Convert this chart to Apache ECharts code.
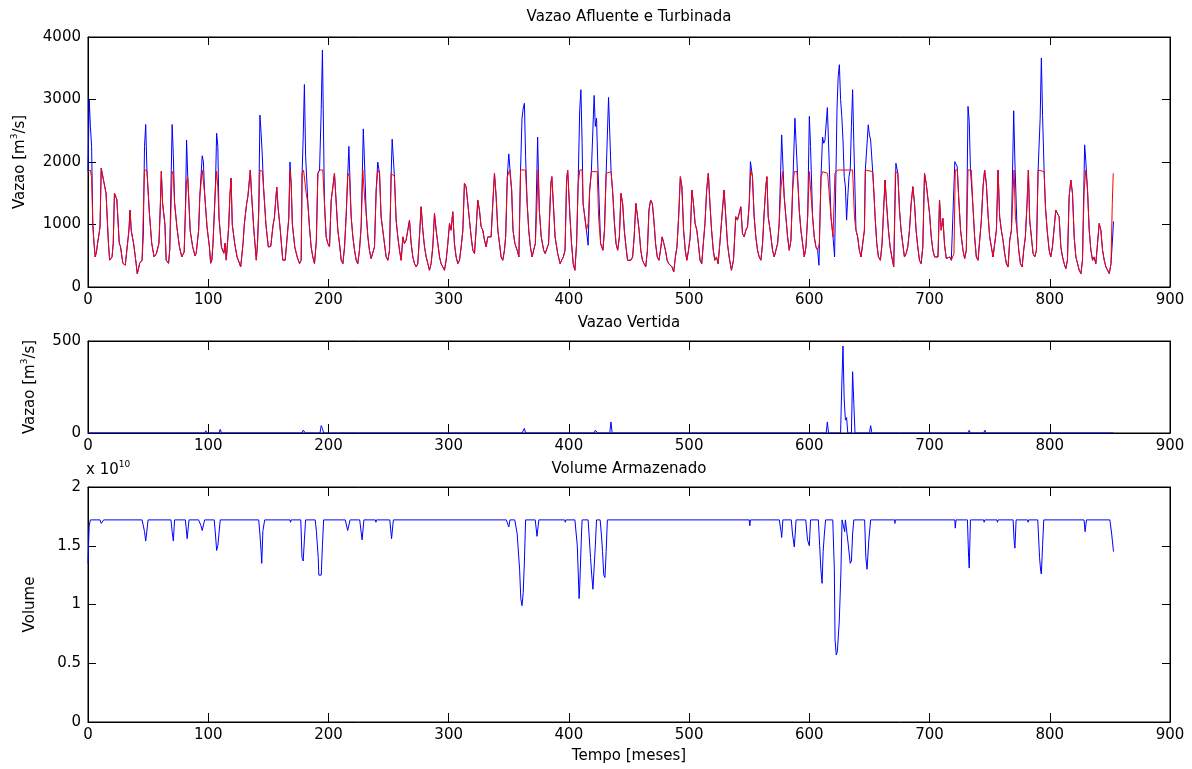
<!DOCTYPE html>
<html><head><meta charset="utf-8">
<script src="https://cdn.jsdelivr.net/npm/echarts@6/dist/echarts.min.js"></script>
<style>html,body{margin:0;padding:0;background:#fff}#c{width:1192px;height:769px}</style>
</head><body><div id="c"></div>
<script>
// ---------- DATA ----------
const titles = ['Vazao Afluente e Turbinada', 'Vazao Vertida', 'Volume Armazenado'];
const xLabel = 'Tempo [meses]';
const yLabels = ['Vazao [m{s|3}/s]', 'Vazao [m{s|3}/s]', 'Volume'];
const volumeExponent = 'x 10{s|10}';
const xRange = [0, 900, 100];
const yRanges = [[0, 4000, 1000], [0, 500, 500], [0, 2, 0.5]];

// Vazao Turbinada (red) [month, m3/s]
const turbinada = [
[0,1850],[2,1870],[3,1750],[4,1000],[5,700],[6,480],[7,560],[8,700],[10,960],[11,1900],[12,1920],[13,1700],[15,1500],[17,700],[18,430],[20,480],[21,700],[22,1500],[24,1400],[26,700],[27,650],[29,380],[31,350],[32,380],[34,900],[35,1230],[36,900],[38,690],[40,380],[41,210],[43,380],[45,430],[46,1180],[47,1870],[49,1870],[51,1200],[53,700],[55,480],[57,540],[59,700],[60,1200],[61,1850],[62,1350],[64,1000],[65,430],[67,380],[68,600],[70,1850],[71,1800],[72,1350],[74,950],[76,650],[78,480],[80,560],[81,1200],[82,1700],[83,1750],[85,900],[87,650],[89,500],[90,540],[92,900],[93,1450],[95,1870],[96,1870],[97,1500],[99,960],[101,640],[102,380],[103,430],[104,700],[106,1600],[107,1850],[108,1600],[109,1100],[111,640],[113,540],[114,700],[115,430],[117,960],[118,1450],[119,1740],[120,1000],[122,700],[124,480],[126,380],[127,320],[129,700],[130,1000],[132,1340],[133,1450],[135,1870],[136,1500],[138,900],[140,430],[141,700],[142,1200],[143,1870],[145,1850],[146,1600],[148,1000],[150,640],[152,650],[154,1000],[155,1100],[157,1600],[158,1300],[160,900],[162,430],[164,430],[165,650],[167,1100],[168,1870],[169,1650],[170,1000],[172,640],[174,480],
[176,374],[177.3,428],[178.1,1820],[179.3,1872],[180.6,1872],[181.5,1498],[182.9,1337],[184.2,963],[185.6,642],[187,481],[188.4,374],[189.8,695],[191.2,1820],[192.6,1872],[195.3,1872],[196.7,1337],[198.1,802],[199.5,695],[200.9,642],[202.3,1391],[203.7,1605],[205,1820],[206.4,1846],[207.8,909],[209.2,695],[210.6,428],[212,374],[213.4,642],[214.7,1124],[216.1,1820],[217.5,1765],[218.9,1124],[220.3,802],[221.7,588],[223.1,428],[224.4,374],[225.8,588],[227.2,963],[228.6,1872],[230,1444],[231.4,1177],[232.8,802],[234.1,588],[235.5,455],[236.9,428],[238.3,642],[239.7,1551],[241.1,1872],[242.5,1820],[243.8,1124],[245.2,909],[246.6,695],[248,481],[249.4,428],[250.8,588],[252.2,1820],[253.5,1846],[254.9,1765],[256.3,1070],[257.7,802],[259.1,588],[260.5,428],[261.9,802],[263.2,695],[264.6,749],[266,909],[267.4,1070],[268.8,695],[270.2,481],[271.6,374],[273,321],[274.3,374],[275.7,802],[277.1,1284],[278.5,909],[279.9,642],[281.3,481],[282.7,374],[284,268],[285.4,374],[286.8,642],[288.2,1177],[289.6,909],[291,695],[292.4,481],[293.7,374],[296.5,268],[297.9,428],[299.3,695],[300.7,1016],[302,909],[303.4,1204],[304.8,695],[306.2,481],[307.6,374],[309,428],[310.4,642],[311.8,909],[313.1,1658],[314.5,1605],[315.9,1337],[318.7,802],[320.1,588],[321.5,535],[322.8,909],[324.2,1391],[325.6,1230],[327,963],[328.4,909],[329.8,749],[331.2,642],[332.5,802],[335.3,802],[336.7,1337],[338.1,1820],[339.5,1444],[340.9,909],[342.3,695],[343.6,481],[345,428],[346.4,588],
[347.4,802],[348.8,1765],[350.7,1872],[352.4,1551],[353.5,909],[355.1,695],[357,588],[358.4,481],[359.8,1872],[363.9,1872],[365.3,1337],[366.6,909],[368,642],[369.4,481],[370.7,588],[372.1,695],[373.5,1337],[374.3,1872],[375.4,1230],[377,802],[379,588],[380.3,535],[383.1,695],[385,1658],[385.8,1765],[387.2,1284],[388.5,802],[390.7,535],[392.7,374],[394,428],[395.4,481],[396.8,588],[398.1,1712],[399,1872],[400.9,1124],[402.2,695],[403.6,374],[405,268],[406.4,695],[407.7,1658],[409.1,1872],[411,1872],[411.8,1337],[413.2,1124],[414.6,909],[416,1016],[417.3,1551],[418.7,1846],[423.6,1846],[424.7,1124],[426.4,695],[428.3,588],[429.6,909],[431,1820],[435.1,1846],[436.5,1498],[437.9,1016],[439.2,695],[440.6,588],[442,802],[443.3,1498],[444.7,1337],[446.1,909],[447.5,642],[448.8,428],[451.6,428],[453,481],[454.3,802],[455.7,1337],[457.1,1124],[458.4,909],[459.8,588],[461.2,428],[462.5,374],[463.9,321],[465.3,588],[466.6,1230],[468,1391],[469.4,1337],[470.7,1070],[472.1,695],[473.5,481],[474.9,428],[476.2,588],[477.6,802],[479,695],[480.3,588],[481.7,428],[483.1,374],[484.4,374],[485.8,321],[487.2,241],[488.6,481],[489.9,642],[491.3,1124],[492.7,1765],[494,1605],[495.4,909],[496.8,588],[498.1,428],[499.5,588],[500.9,802],[502.3,1551],[503.6,1337],[505,1016],[506.4,909],[507.7,695],[509.1,428],[510.5,374],[511.8,695],[513.2,1016],[514.6,1551],[516,1820],[517.3,1337],[518.7,909],[520.1,588],[521.4,428],[522.8,481],
[524.1,374],[525.8,749],[527.7,1230],[529.1,1551],[530.5,1124],[531.9,695],[533.3,481],[535.2,268],[536.9,428],[538.8,1124],[540.2,1070],[541.6,1177],[543,1284],[544.4,856],[545.8,802],[547.2,909],[548.6,963],[550,1337],[551.3,1872],[552.7,1765],[554.1,1124],[555.5,802],[556.9,588],[558.3,481],[559.7,428],[561.1,695],[562.4,1177],[563.8,1605],[564.7,1765],[565.8,1124],[567.4,909],[569.4,588],[570.8,481],[572.2,481],[573.6,695],[574.9,1016],[576.3,1551],[577.7,1846],[579.1,1444],[580.5,1124],[581.9,802],[583.3,588],[584.7,749],[586.1,1551],[587.5,1846],[589.7,1846],[590.8,1551],[591.6,1230],[593,909],[594.4,695],[595.8,481],[597.2,642],[598.6,1124],[600,1846],[601.3,1872],[602.7,1124],[604.1,802],[605.5,642],[606.9,588],[608.3,695],[609.7,1765],[611.1,1846],[615.2,1820],[618,1124],[619.7,802],[621.3,1820],[623.6,1872],[636,1872],[637.5,1124],[638.8,909],[640.2,802],[641.6,588],[643,481],[644.4,455],[645.8,909],[646.6,1872],[652.7,1846],[653.6,1551],[654.7,1124],[656.1,695],[657.5,481],[659.1,428],[660.5,695],[661.9,1284],[663,1712],[664.4,1284],[665.8,909],[667.2,642],[668.6,481],[670.2,321],[671.6,1846],[673.6,1820],[675,1230],[676.3,909],[677.7,695],[679.1,481],[680.5,535],[681.9,642],[683.3,909],[684.7,1337],[686.1,1605],[687.5,1337],[688.8,909],[690.2,642],[691.6,428],[693,374],[694.4,642],
[695.8,1820],[697.2,1658],[698.6,1658],[700,1177],[701.4,802],[702.8,588],[704.2,481],[705.6,455],[707,481],[708.3,1391],[709.7,909],[711.1,1097],[712.5,669],[713.9,455],[715.3,455],[716.7,481],[718.1,428],[719.5,428],[720.3,535],[721.4,1872],[723.1,1872],[724.2,1444],[725.8,909],[727.8,588],[729.2,455],[730.6,588],[732,1872],[734.7,1872],[736.1,1284],[737.5,802],[738.9,481],[740.3,428],[741.7,749],[743.1,1070],[744.5,1605],[745.8,1872],[747.2,1658],[748.6,1177],[750,802],[751.4,642],[752.8,481],[754.2,455],[755.6,909],[757,1872],[758.3,1124],[759.7,909],[761.1,749],[762.5,535],[763.9,374],[765.3,321],[766.7,749],[768.1,909],[769.5,1551],[770.3,1872],[771.4,1124],[772.8,909],[774.2,588],[775.6,374],[777,321],[778.3,588],[779.7,802],[781.1,1337],[782.2,1872],[783.3,1070],[784.7,802],[786.1,535],[787.5,481],[788.9,588],[790.3,1872],[795.3,1846],[796.4,1284],[797.8,909],[799.5,588],[800.8,481],[802.2,642],[803.6,642],[805,1230],[806.4,1230],[807.8,1124],[809.2,642],[810.6,481],[812,374],[813.3,294],[814.7,428],[816.1,1444],[817.5,1712],[818.9,1498],[820.3,802],[821.7,481],[823.1,374],[824.5,268],[825.9,214],[827.2,428],[828.6,1551],[830,1872],[831.4,1551],[832.8,909],[834.2,588],[835.6,428],[836.9,481],[838.3,374],[839.7,695],[841.1,1016],[842.5,909],[843.9,588],[845.3,428],[846.7,321],[848.1,268],[849.5,214],[850.9,374],[852,1337],[852.8,1820]
];

// Vazao Afluente (blue): months where it departs from the turbinada line [month, m3/s]
const afluenteDiff = [
[1,3000],[2,2570],[3,2250],[10,960],[46,830],[47,2250],[48,2600],[70,2600],[71,2100],[82,2350],[95,2100],[96,2000],
[107,2460],[108,2250],[143,2750],[144,2460],[145,2100],[168,2000],[179,2400],[180,3240],[181,2100],[190,750],
[194,2840],[195,3790],[217,2250],[229,2530],[230,2000],[241,2000],[253,2365],[350,2130],
[361,2700],[362,2860],[363,2940],[364,2085],[374,2400],[409,2835],[410,3157],[411,2300],[416,669],
[421,3065],[422,2570],[423,2700],[424,2000],[433,3033],[434,2460],[551,2006],[577,2434],[588,2700],[589,2300],
[600,2730],[601,2250],[608,348],[611,2400],[612,2300],[613,2350],[615,2870],[621,481],[623,2835],[624,3370],[625,3557],[626,3000],
[627,2730],[628,2350],[629,1770],[630,1600],[631,1070],[632,1450],[633,1770],[634,1870],
[635,2570],[636,3157],[637,2300],[649,2595],[650,2434],[651,2350],[672,1980],
[721,2006],[723,1926],[732,2890],[733,2650],[734,1900],[770,2820],[771,2000],[792,2700],[793,3665],[794,2745],
[829,2275],[830,2006],[852,700],[853,1050]
];

// Vazao Vertida [month, m3/s]
const vertida = [
[0,0],[71,0],[72,10],[73,0],[97,0],[98,12],[99,0],[109,0],[110,20],[111,0],[178,0],[179,15],[180,20],[181,0],
[193,0],[194,40],[195,25],[196,0],[361,0],[362,10],[363,25],[364,0],[421,0],[422,15],[423,25],[424,0],
[434,0],[435,60],[436,0],[614,0],[615,60],[616,0],[626,0],[627,260],[628,473],[629,180],[630,70],[631,84],[632,0],
[635,0],[636,333],[637,160],[638,0],[650,0],[651,40],[652,0],[732,0],[733,15],[734,0],[745,0],[746,15],[747,0],[853,0]
];

// Volume Armazenado [month, x 1e10]
const volume = [
[0,1.35],[0.5,1.52],[1,1.67],[2,1.72],[10,1.72],[11,1.69],[13,1.72],
[45,1.72],[47,1.62],[48,1.54],[49,1.54],[50,1.72],
[69,1.72],[70,1.62],[71,1.54],[72,1.72],
[81,1.72],[82.5,1.56],[84,1.72],
[92,1.72],[94,1.67],[95,1.63],[97,1.72],
[105,1.72],[106,1.6],[107,1.46],[108,1.5],[110,1.72],
[142,1.72],[143,1.6],[144,1.45],[144.5,1.35],[145.5,1.63],[147,1.72],
[168,1.72],[168.5,1.70],[169,1.72],
[177,1.72],[178,1.4],[179,1.37],[180,1.55],[181,1.72],
[189,1.72],[190,1.62],[191.5,1.4],[192,1.25],[194,1.25],[195,1.5],[196,1.72],
[214,1.72],[216,1.63],[218,1.72],
[226,1.72],[228,1.55],[229.5,1.72],
[239,1.72],[239.5,1.70],[240,1.72],
[251,1.72],[252.5,1.56],[254,1.72],
[348,1.72],[350,1.66],[351,1.72],
[355,1.72],[357,1.6],[359,1.3],[360,1.05],[361,0.99],[362,1.1],[363,1.37],[364,1.72],
[372,1.72],[373.5,1.58],[375,1.72],
[396.5,1.72],[397,1.70],[397.5,1.72],
[405,1.72],[407,1.5],[408.5,1.05],[409,1.15],[410.5,1.6],[411,1.72],
[416,1.72],[418,1.4],[419,1.25],[420,1.13],[421,1.13],[422,1.5],[423,1.72],
[426,1.72],[427,1.6],[428,1.45],[429,1.25],[430,1.23],[431,1.45],[432,1.72],
[550,1.72],[550.5,1.67],[551,1.72],
[563.5,1.72],[564,1.71],[564.5,1.72],
[575,1.72],[576.5,1.62],[577,1.57],[578,1.72],
[585,1.72],[586,1.6],[587.5,1.49],[589,1.72],
[597,1.72],[598.5,1.55],[600,1.5],[601,1.72],
[607.5,1.72],[608.6,1.5],[609.6,1.3],[610.6,1.18],[611.5,1.45],[612.5,1.6],[613.5,1.72],
[619.5,1.72],[620.8,1.3],[621.4,0.7],[622.4,0.57],[623.3,0.6],[624.9,0.86],[626.2,1.25],[627.2,1.72],
[628.8,1.72],[629.4,1.62],[630,1.72],
[631,1.72],[632.5,1.5],[634,1.35],[635,1.37],[636,1.6],[637,1.72],
[646,1.72],[647,1.4],[648,1.3],[649.5,1.55],[651,1.72],
[671,1.72],[671.2,1.69],[671.5,1.72],
[721,1.72],[721.4,1.65],[722,1.72],
[731.5,1.72],[732.5,1.4],[733,1.31],[734,1.72],
[745,1.72],[745.4,1.70],[746,1.72],
[756,1.72],[756.5,1.70],[757,1.72],
[769.5,1.72],[770.3,1.55],[771,1.48],[772,1.72],
[781.5,1.72],[782,1.70],[782.5,1.72],
[790,1.72],[791.5,1.4],[792.5,1.28],[793,1.26],[794,1.5],[795,1.72],
[828.5,1.72],[829.4,1.62],[830.5,1.72],
[850,1.72],[851.5,1.6],[852,1.55],[853,1.45]
];

// ---------- build ----------
// afluente line = turbinada path with its own values where it differs
const afluente = turbinada
  .filter(p => !afluenteDiff.some(d => Math.abs(d[0] - p[0]) < 0.75))
  .concat(afluenteDiff)
  .sort((a, b) => a[0] - b[0]);

const FONT = 'DejaVu Sans';
const FS = 15;
const BLUE = '#0000ff', RED = '#ff0000';
const grids = [
  {left: 88, top: 37, width: 1082, height: 250},
  {left: 88, top: 341, width: 1082, height: 92},
  {left: 88, top: 487, width: 1082, height: 235}
];
const tickLen = [8, 9, 9];
const supRich = {s: {fontSize: 9, fontFamily: FONT, color: '#000', verticalAlign: 'top', lineHeight: 9}};
const plain = v => String(v);

const xAxis = [], yAxis = [];
grids.forEach((g, i) => {
  const base = {
    gridIndex: i, type: 'value', min: xRange[0], max: xRange[1], interval: xRange[2],
    axisLine: {show: true, onZero: false, lineStyle: {color: '#000', width: 1}},
    axisTick: {show: true, inside: true, length: tickLen[i], lineStyle: {color: '#000', width: 1}},
    splitLine: {show: false}
  };
  xAxis.push(Object.assign({}, base, {
    position: 'bottom',
    axisLabel: {show: true, color: '#000', fontFamily: FONT, fontSize: FS, margin: 6, formatter: plain},
    name: i === 2 ? xLabel : '', nameLocation: 'middle', nameGap: 27,
    nameTextStyle: {color: '#000', fontFamily: FONT, fontSize: FS}
  }));
  xAxis.push(Object.assign({}, base, {position: 'top', axisLabel: {show: false}}));
  const yb = {
    gridIndex: i, type: 'value', min: yRanges[i][0], max: yRanges[i][1], interval: yRanges[i][2],
    axisLine: {show: true, onZero: false, lineStyle: {color: '#000', width: 1}},
    axisTick: {show: true, inside: true, length: 8, lineStyle: {color: '#000', width: 1}},
    splitLine: {show: false}
  };
  yAxis.push(Object.assign({}, yb, {
    position: 'left',
    axisLabel: {show: true, color: '#000', fontFamily: FONT, fontSize: FS, margin: 7, formatter: plain},
    name: yLabels[i], nameLocation: 'middle', nameRotate: 90, nameGap: i === 0 ? 58 : 48,
    nameTextStyle: {color: '#000', fontFamily: FONT, fontSize: FS, lineHeight: 20, rich: supRich}
  }));
  yAxis.push(Object.assign({}, yb, {position: 'right', axisLabel: {show: false}}));
});

const lineSeries = (data, color, xi, name) => ({
  name, type: 'line', data, xAxisIndex: xi, yAxisIndex: xi, z: 5,
  showSymbol: false, symbol: 'none', clip: true, silent: true,
  lineStyle: {color, width: 1}, itemStyle: {color}
});

const option = {
  backgroundColor: '#ffffff',
  animation: false,
  title: titles.map((t, i) => ({
    text: t, left: 629, textAlign: 'center', top: [10, 316, 462][i], padding: 0,
    textStyle: {color: '#000', fontFamily: FONT, fontSize: FS, fontWeight: 'normal'}
  })),
  grid: grids.map(g => Object.assign({show: true, backgroundColor: '#ffffff', borderColor: '#000', borderWidth: 1}, g)),
  xAxis, yAxis,
  graphic: [{
    type: 'text', left: 86, top: 460,
    style: {text: volumeExponent, fontFamily: FONT, fontSize: FS, fill: '#000', lineHeight: 20, rich: supRich}
  }],
  series: [
    lineSeries(afluente, BLUE, 0, 'Afluente'),
    lineSeries(turbinada, RED, 0, 'Turbinada'),
    lineSeries(vertida, BLUE, 2, 'Vertida'),
    lineSeries(volume, BLUE, 4, 'Volume')
  ]
};
const chart = echarts.init(document.getElementById('c'), null, {renderer: 'canvas'});
chart.setOption(option);
</script></body></html>
